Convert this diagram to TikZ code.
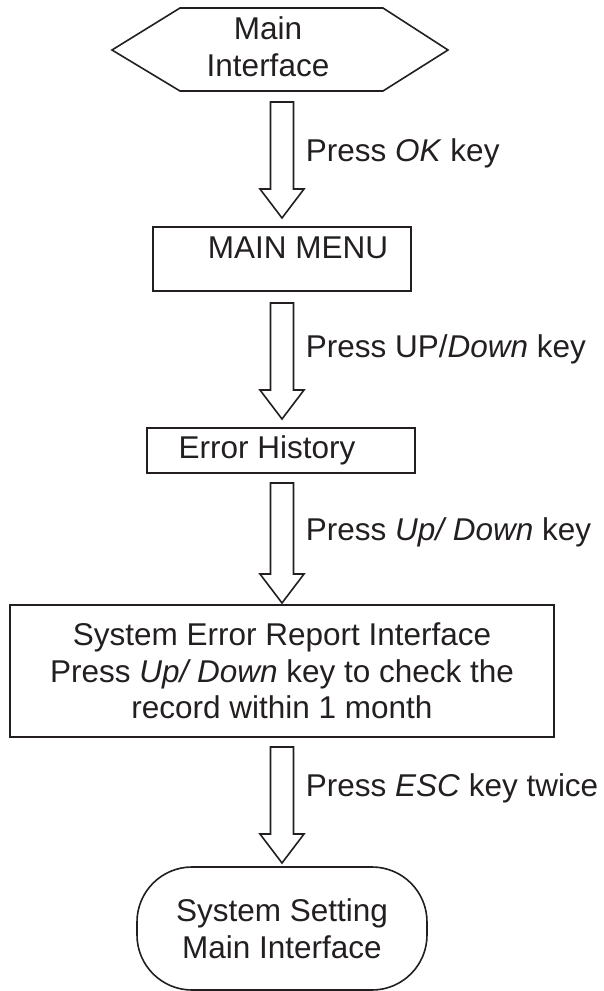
\documentclass[tikz,border=0pt]{standalone}
\usepackage{fontspec}
\setmainfont{Liberation Sans}
\usetikzlibrary{calc}
\definecolor{ink}{HTML}{231F20}
\newcommand\blockarr[2]{%
  \draw[blockarrow] ($(#1)+(-11.5,0)$) -- ($(#1)+(11.5,0)$) -- ($(#2)+(11.5,-29)$) -- ($(#2)+(22,-29)$) -- (#2) -- ($(#2)+(-22,-29)$) -- ($(#2)+(-11.5,-29)$) -- cycle;}
\begin{document}
\begin{tikzpicture}[x=1pt,y=-1pt,line width=1.6pt,draw=ink,text=ink,
  font=\fontsize{31.5}{37}\selectfont,
  boxnode/.style={draw=ink,inner sep=0pt,align=center},
  lbl/.style={anchor=west,inner sep=0pt},
  blockarrow/.style={draw=ink,line join=miter,fill=white}]
\useasboundingbox (0,0) rectangle (603,991);
% start hexagon
\coordinate (hL) at (112,50);
\coordinate (hTL) at (180,8);
\coordinate (hTR) at (383,8);
\coordinate (hR) at (448,50);
\coordinate (hBR) at (383,91);
\coordinate (hBL) at (180,91);
\draw[line join=miter] (hL) -- (hTL) -- (hTR) -- (hR) -- (hBR) -- (hBL) -- cycle;
\node[align=center,inner sep=0pt] (start) at (268,47) {Main\\Interface};
% boxes
\node[boxnode,minimum width=258pt,minimum height=64pt] (menu) at (282,259) {\hspace*{32pt}\raisebox{22pt}{MAIN MENU}};
\node[boxnode,minimum width=268pt,minimum height=45pt] (hist) at (281,450.5) {Error History\hspace*{28pt}};
\node[boxnode,minimum width=544pt,minimum height=132pt] (report) at (282,671)
  {\raisebox{14pt}{\parbox{540pt}{\centering\fontsize{31.5}{36.5}\selectfont System Error Report Interface\\Press \textit{Up/ Down} key to check the\\record within 1 month}}};
\node[boxnode,minimum width=290pt,minimum height=123pt,rounded corners=55pt] (final) at (282,928.5)
  {\raisebox{6pt}{\parbox{280pt}{\centering System Setting\\Main Interface}}};
% arrow coordinates
\coordinate (a1t) at (282,102); \coordinate (a1h) at (282,218);
\coordinate (a2t) at (282,303); \coordinate (a2h) at (282,419);
\coordinate (a3t) at (282,483); \coordinate (a3h) at (282,603);
\coordinate (a4t) at (282,747); \coordinate (a4h) at (282,863);
\blockarr{a1t}{a1h}
\blockarr{a2t}{a2h}
\blockarr{a3t}{a3h}
\blockarr{a4t}{a4h}
% labels
\node[lbl] (l1) at (305,153) {Press \textit{OK} key};
\node[lbl] (l2) at (305,349) {Press UP/\textit{Down} key};
\node[lbl] (l3) at (305,532) {Press \textit{Up/ Down} key};
\node[lbl] (l4) at (305,788) {Press \textit{ESC} key twice};
\end{tikzpicture}
\end{document}
